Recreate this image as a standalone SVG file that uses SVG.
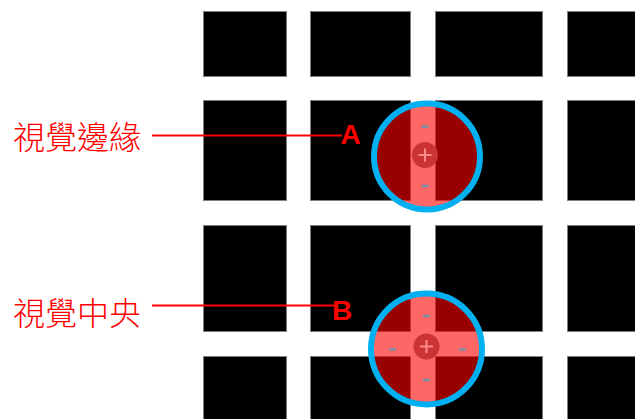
<svg xmlns="http://www.w3.org/2000/svg" width="635" height="419" viewBox="0 0 635 419">
  <style>
    .blk { fill: #000; stroke: #7f7f7f; stroke-width: 1; }
    .field { fill: #ff0000; fill-opacity: 0.6; stroke: #00b0f0; stroke-width: 6; }
    .core { fill: #cc3333; }
    .plus { stroke: #ff8a8a; stroke-width: 2; fill: none; }
    .minus { stroke: #7890a6; stroke-width: 2.5; fill: none; }
    .label { font-family: "Noto Sans CJK TC", "Noto Sans CJK SC", sans-serif; font-size: 32px; font-weight: 300; fill: #ff0000; }
    .tag { font-family: "Liberation Sans", Arial, sans-serif; font-size: 28px; font-weight: bold; fill: #ff0000; }
    .lead { stroke: #ff0000; stroke-width: 2; fill: none; }
  </style>
  <rect width="635" height="419" fill="#fff"/>

  <!-- black squares separated by white streets -->
  <g id="grid">
    <rect class="blk" x="203.5" y="11.5" width="83" height="65"/>
    <rect class="blk" x="310.5" y="11.5" width="100" height="65"/>
    <rect class="blk" x="435.5" y="11.5" width="107" height="65"/>
    <rect class="blk" x="567.5" y="11.5" width="80" height="65"/>

    <rect class="blk" x="203.5" y="100.5" width="83" height="100"/>
    <rect class="blk" x="310.5" y="100.5" width="100" height="100"/>
    <rect class="blk" x="435.5" y="100.5" width="107" height="100"/>
    <rect class="blk" x="567.5" y="100.5" width="80" height="100"/>

    <rect class="blk" x="203.5" y="225.5" width="83" height="106"/>
    <rect class="blk" x="310.5" y="225.5" width="100" height="106"/>
    <rect class="blk" x="435.5" y="225.5" width="107" height="106"/>
    <rect class="blk" x="567.5" y="225.5" width="80" height="106"/>

    <rect class="blk" x="203.5" y="356.5" width="83" height="80"/>
    <rect class="blk" x="310.5" y="356.5" width="100" height="80"/>
    <rect class="blk" x="435.5" y="356.5" width="107" height="80"/>
    <rect class="blk" x="567.5" y="356.5" width="80" height="80"/>
  </g>

  <!-- leader lines from captions to letters -->
  <g id="connectors">
    <line class="lead" x1="152" y1="135.5" x2="342" y2="135.5"/>
    <line class="lead" x1="152" y1="305.5" x2="337" y2="305.5"/>
  </g>

  <!-- receptive field A: on a single street -->
  <g id="field-a">
    <circle class="field" cx="427" cy="156.5" r="53"/>
    <circle class="core" cx="425" cy="155" r="13"/>
    <path class="plus" d="M418.5 155 H431.5 M425 148.5 V161.5"/>
    <path class="minus" d="M421.5 126.5 H428.5 M421.5 186 H428.5"/>
  </g>

  <!-- receptive field B: at a crossing -->
  <g id="field-b">
    <circle class="field" cx="426.5" cy="349" r="55.5"/>
    <circle class="core" cx="426.5" cy="346.5" r="13"/>
    <path class="plus" d="M420 346.5 H433 M426.5 340 V353"/>
    <path class="minus" d="M423 316 H430 M423 380 H430 M389 349.5 H396 M459 349.5 H466"/>
  </g>

  <g id="caption-a">
    <text class="label" x="13" y="148.5">視覺邊緣</text>
    <text class="tag" x="340.5" y="144.3">A</text>
  </g>
  <g id="caption-b">
    <text class="label" x="13" y="325">視覺中央</text>
    <text class="tag" x="332" y="320">B</text>
  </g>
</svg>
